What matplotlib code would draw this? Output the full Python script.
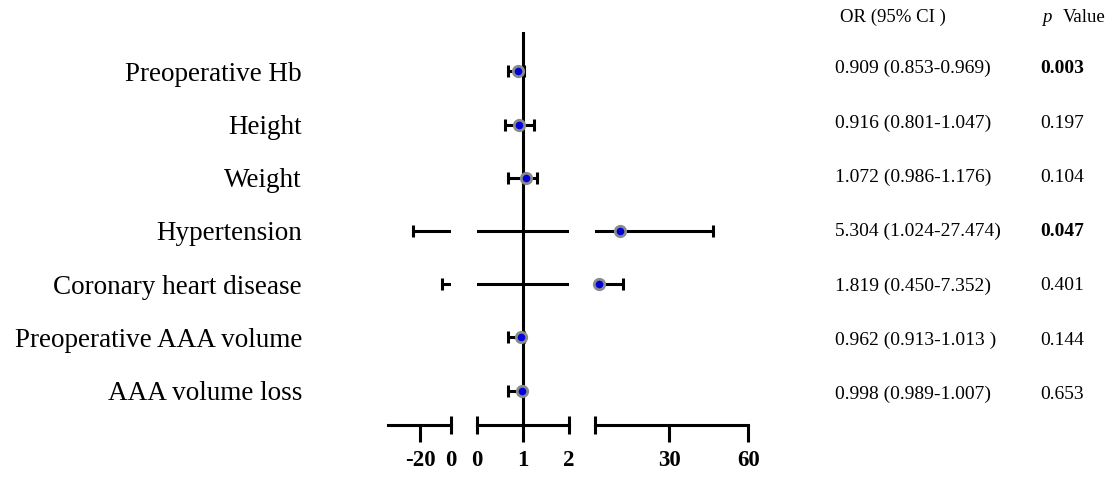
import matplotlib
matplotlib.use('Agg')
import matplotlib.pyplot as plt
import matplotlib.transforms as mtransforms
import numpy as np

plt.rcParams['font.family'] = ['Liberation Serif', 'DejaVu Serif']

# ------------------------------ Data ------------------------------ #
labels = ['Preoperative Hb', 'Height', 'Weight', 'Hypertension',
          'Coronary heart disease', 'Preoperative AAA volume', 'AAA volume loss']
# point / whisker ends as drawn on the broken axis
odds = np.array([0.90, 0.91, 1.065, 11.5, 3.5, 0.97, 0.99])
lower = np.array([0.68, 0.61, 0.68, -24.4, -5.9, 0.67, 0.67])
upper = np.array([1.03, 1.25, 1.31, 46.8, 12.7, 1.02, 1.01])

or_text = ['0.909 (0.853-0.969)', '0.916 (0.801-1.047)', '1.072 (0.986-1.176)',
           '5.304 (1.024-27.474)', '1.819 (0.450-7.352)', '0.962 (0.913-1.013 )',
           '0.998 (0.989-1.007)']
p_text = ['0.003', '0.197', '0.104', '0.047', '0.401', '0.144', '0.653']
p_bold = [True, False, False, True, False, False, False]

# broken x axis: three segments
seg_limits = [(-40.6, 0), (0, 2), (2, 60)]
seg_ticks = [[-20], [1], [30, 60]]
seg_tick_labels = [['-20'], ['1'], ['30', '60']]
seg_caps = [[0], [0, 2], [2]]
seg_cap_labels = [['0'], ['0', '2'], ['']]

# ------------------------------ Layout ------------------------------ #
W, H = 1111, 479
fig = plt.figure(figsize=(W / 100, H / 100), dpi=100)


def px_axes(x0, x1, y_top, y_bot):
    """axes from pixel box (y measured from top)"""
    return fig.add_axes([x0 / W, 1 - y_bot / H, (x1 - x0) / W, (y_bot - y_top) / H])


seg_px = [(388.3, 450.7), (476.7, 568.7), (595.0, 748.3)]
y = np.arange(len(labels), 0, -1).astype(float)
lw = 2.2

axes = []
for k, (x0, x1) in enumerate(seg_px):
    ax = px_axes(x0, x1, 32, 425)
    lo, hi = seg_limits[k]
    ax.set_xlim(lo, hi)
    ax.set_ylim(0.352, 7.739)
    for s in ['left', 'right', 'top']:
        ax.spines[s].set_visible(False)
    ax.spines['bottom'].set_linewidth(lw)
    ax.set_yticks([])

    ax.set_xticks(seg_ticks[k])
    ax.set_xticklabels(seg_tick_labels[k], fontsize=16.5, fontweight='bold')
    ax.set_xticks(seg_caps[k], minor=True)
    ax.set_xticklabels(seg_cap_labels[k], minor=True, fontsize=16.5, fontweight='bold')
    ax.tick_params(which='major', direction='out', length=12, width=lw, pad=6)
    ax.tick_params(which='minor', direction='inout', length=13, width=lw, pad=11.5)

    # whiskers (clipped to the segment), caps only where the end falls inside
    ax.hlines(y, lower, upper, color='black', lw=lw, zorder=2)
    ends = np.concatenate([lower, upper])
    ends_y = np.concatenate([y, y])
    keep = (ends >= lo) & (ends <= hi)
    ax.plot(ends[keep], ends_y[keep], '|', color='black', ms=8.6, mew=lw,
            clip_on=False, zorder=2)

    inside = (odds > lo) & (odds < hi)
    ax.plot(odds[inside], y[inside], 'o', ms=7.5, mfc='#0000d8', mec='#8a8a8a',
            mew=2, clip_on=False, zorder=3)
    axes.append(ax)

# reference line at OR = 1
axes[1].axvline(1, color='black', lw=lw, zorder=1)

# row labels
trans = mtransforms.blended_transform_factory(fig.transFigure, axes[1].transData)
for yi, lab in zip(y, labels):
    axes[1].text(302 / W, yi, lab, transform=trans, ha='right',
                 va='center_baseline', fontsize=19.5)

# table on the right
tab = px_axes(800, 1111, 66.7, 392.5)
tab.set_ylim(1, 7)
tab.axis('off')
ttrans = mtransforms.blended_transform_factory(fig.transFigure, tab.transData)
for yi, ort, pt, pb in zip(y, or_text, p_text, p_bold):
    tab.text(835 / W, yi, ort, transform=ttrans, ha='left', va='center_baseline', fontsize=14)
    tab.text(1040 / W, yi, pt, transform=ttrans, ha='left', va='center_baseline',
             fontsize=14, fontweight='bold' if pb else 'normal')

fig.text(840 / W, 1 - 15 / H, 'OR (95% CI )', ha='left', va='center_baseline', fontsize=13.5)
fig.text(1042 / W, 1 - 15 / H, 'p', ha='left', va='center_baseline', fontsize=13.5, style='italic')
fig.text(1063 / W, 1 - 15 / H, 'Value', ha='left', va='center_baseline', fontsize=13.5)

fig.savefig('out.png', dpi=100)
